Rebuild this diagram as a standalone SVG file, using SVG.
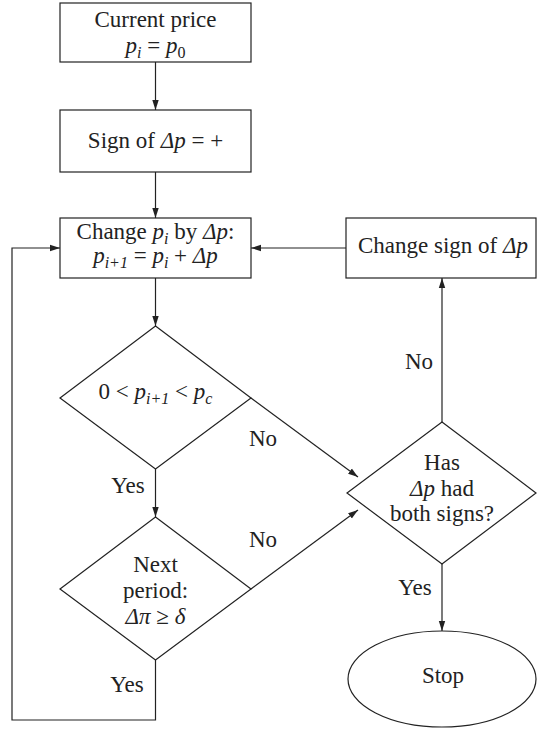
<svg xmlns="http://www.w3.org/2000/svg" width="537" height="729" viewBox="0 0 537 729">
<style>
  text { font-family: "Liberation Serif", "Times New Roman", serif; font-size: 23px; fill: #222; }
  .c { text-anchor: middle; }
  .i { font-style: italic; }
  .s { font-size: 16px; font-style: italic; }
  .shape { fill: #fff; stroke: #222; stroke-width: 1.2; }
  .edge { fill: none; stroke: #222; stroke-width: 1.2; }
</style>
<defs>
  <marker id="arr" markerUnits="userSpaceOnUse" markerWidth="10" markerHeight="8" refX="10" refY="4" orient="auto">
    <path d="M0,0.8 L10,4 L0,7.2 Z" fill="#222"/>
  </marker>
</defs>
<rect width="537" height="729" fill="#fff"/>

<g id="connectors">
  <line class="edge" x1="155.5" y1="62" x2="155.5" y2="110" marker-end="url(#arr)"/>
  <line class="edge" x1="155.5" y1="172" x2="155.5" y2="218" marker-end="url(#arr)"/>
  <line class="edge" x1="155.5" y1="278" x2="155.5" y2="326" marker-end="url(#arr)"/>
  <line class="edge" x1="155.5" y1="469" x2="155.5" y2="517" marker-end="url(#arr)"/>
  <polyline class="edge" points="155.5,660 155.5,720 12,720 12,248 60,248" marker-end="url(#arr)"/>
  <line class="edge" x1="346" y1="248" x2="251" y2="248" marker-end="url(#arr)"/>
  <line class="edge" x1="442" y1="422" x2="442" y2="278" marker-end="url(#arr)"/>
  <line class="edge" x1="251" y1="398" x2="358" y2="477" marker-end="url(#arr)"/>
  <line class="edge" x1="251" y1="589" x2="358" y2="510" marker-end="url(#arr)"/>
  <line class="edge" x1="442" y1="564" x2="442" y2="631" marker-end="url(#arr)"/>
  <text class="c" x="419" y="369">No</text>
  <text class="c" x="263" y="446">No</text>
  <text class="c" x="128" y="493">Yes</text>
  <text class="c" x="263" y="547">No</text>
  <text class="c" x="127" y="692">Yes</text>
  <text class="c" x="415" y="595">Yes</text>
</g>

<g id="current-price">
  <rect class="shape" x="60" y="3" width="191" height="59"/>
  <text class="c" x="155.5" y="27">Current price</text>
  <text class="c" x="155.5" y="53"><tspan class="i">p</tspan><tspan class="s" dy="5">i</tspan><tspan dy="-5"> = </tspan><tspan class="i">p</tspan><tspan font-size="16" dy="5">0</tspan></text>
</g>

<g id="sign-dp">
  <rect class="shape" x="60" y="110" width="191" height="62"/>
  <text class="c" x="155.5" y="148">Sign of <tspan class="i">Δp</tspan> = +</text>
</g>

<g id="change-p">
  <rect class="shape" x="60" y="218" width="191" height="60"/>
  <text class="c" x="155.5" y="239">Change <tspan class="i">p</tspan><tspan class="s" dy="5">i</tspan><tspan dy="-5"> by </tspan><tspan class="i">Δp</tspan>:</text>
  <text class="c" x="155.5" y="263"><tspan class="i">p</tspan><tspan class="s" dy="5">i+1</tspan><tspan dy="-5"> = </tspan><tspan class="i">p</tspan><tspan class="s" dy="5">i</tspan><tspan dy="-5"> + </tspan><tspan class="i">Δp</tspan></text>
</g>

<g id="change-sign">
  <rect class="shape" x="346" y="218" width="190" height="60"/>
  <text x="358" y="253">Change sign of <tspan class="i">Δp</tspan></text>
</g>

<g id="range-check">
  <polygon class="shape" points="155.5,326 251,398 155.5,469 60,398"/>
  <text class="c" x="155.5" y="399">0 &lt; <tspan class="i">p</tspan><tspan class="s" dy="5">i+1</tspan><tspan dy="-5"> &lt; </tspan><tspan class="i">p</tspan><tspan class="s" dy="5">c</tspan></text>
</g>

<g id="next-period">
  <polygon class="shape" points="155.5,517 251,589 155.5,660 60,589"/>
  <text class="c" x="155.5" y="572">Next</text>
  <text class="c" x="155.5" y="598">period:</text>
  <text class="c" x="155.5" y="624"><tspan class="i">Δπ</tspan> ≥ <tspan class="i">δ</tspan></text>
</g>

<g id="both-signs">
  <polygon class="shape" points="442,422 536,493 442,564 347,493"/>
  <text class="c" x="442" y="470">Has</text>
  <text class="c" x="442" y="496"><tspan class="i">Δp</tspan> had</text>
  <text class="c" x="442" y="521">both signs?</text>
</g>

<g id="stop">
  <ellipse class="shape" cx="442" cy="679" rx="94" ry="48"/>
  <text class="c" x="443" y="683">Stop</text>
</g>
</svg>
